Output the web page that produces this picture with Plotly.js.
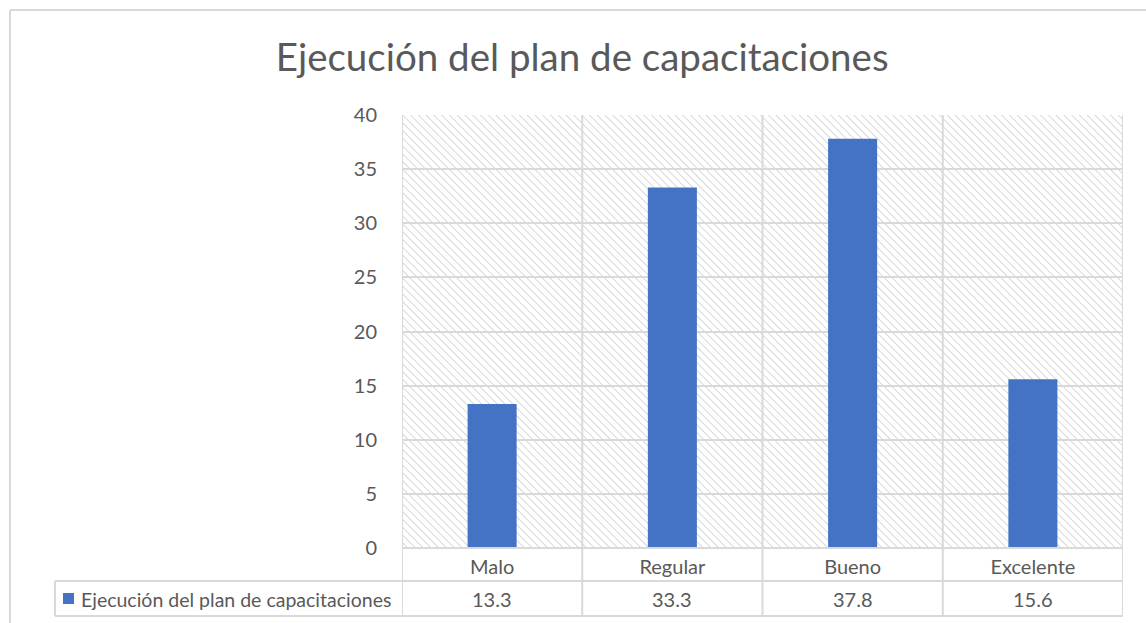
<!DOCTYPE html>
<html>
<head>
<meta charset="utf-8">
<script src="https://cdn.plot.ly/plotly-3.0.1.min.js"></script>
<style>html,body{margin:0;padding:0;background:#fff;}#chart{width:1146px;height:623px;}</style>
</head>
<body>
<div id="chart"></div>
<script>
// ---- data ----
const chartTitle = "Ejecución del plan de capacitaciones";
const seriesName = "Ejecución del plan de capacitaciones";
const categories = ["Malo", "Regular", "Bueno", "Excelente"];
const values = [13.3, 33.3, 37.8, 15.6];
const yTickVals = [0, 5, 10, 15, 20, 25, 30, 35, 40];

// ---- layout geometry (pixels) ----
const W = 1146, H = 623;
const L = 402, R = 1123, T = 115, B = 548;
const pw = R - L, ph = B - T;
const px = x => (x - L) / pw;
const py = y => (B - y) / ph;
const grid = "#d9d9d9";
const txt = "#595959";
const font = "Lato, 'Open Sans', sans-serif";

// hatch background as svg image
const hatchSvg = `<svg xmlns="http://www.w3.org/2000/svg" width="${pw}" height="${ph}"><defs><pattern id="h" width="5.5" height="5.5" patternUnits="userSpaceOnUse" patternTransform="rotate(-45)"><line x1="0" y1="0" x2="0" y2="5.5" stroke="#d2d2d2" stroke-width="1.7"/></pattern></defs><rect width="100%" height="100%" fill="url(#h)"/></svg>`;
const hatchUri = "data:image/svg+xml;base64," + btoa(hatchSvg);

const shapes = [];
const line = (x0, y0, x1, y1, xref) => shapes.push({
  type: "line", xref: xref || "paper", yref: "paper",
  x0: x0, y0: y0, x1: x1, y1: y1,
  line: {color: grid, width: 2}, layer: "above"
});
// vertical boundaries across plot + table
for (let i = 0; i <= categories.length; i++) {
  line(i - 0.5, 1, i - 0.5, py(617), "x");
}
// table horizontals
line(px(L), py(B), px(R), py(B));
line(px(55), py(581), px(R), py(581));
line(px(55), py(616), px(R), py(616));
line(px(55), py(581), px(55), py(616));
// outer chart frame
line(px(10), py(10), px(10), py(H + 5));
line(px(10), py(10), px(W + 5), py(10));
// legend key square
shapes.push({type: "rect", xref: "paper", yref: "paper",
  x0: px(63), x1: px(74), y0: py(604), y1: py(593),
  fillcolor: "#4472c4", line: {width: 0}});

const annotations = [];
annotations.push({xref: "paper", yref: "paper", x: px(79), y: py(599),
  xanchor: "left", yanchor: "middle", text: seriesName, showarrow: false,
  font: {family: font, size: 19.5, color: txt}});
values.forEach((v, i) => annotations.push({
  xref: "x", yref: "paper", x: categories[i], y: py(599),
  xanchor: "center", yanchor: "middle", text: v.toFixed(1), showarrow: false,
  font: {family: font, size: 20, color: txt}
}));

const data = [{
  type: "bar", x: categories, y: values, name: seriesName,
  marker: {color: "#4472c4", line: {width: 0}},
  showlegend: false, hoverinfo: "x+y"
}];

const layout = {
  width: W, height: H,
  margin: {l: L, r: W - R, t: T, b: H - B, pad: 0},
  paper_bgcolor: "#ffffff", plot_bgcolor: "#ffffff",
  bargap: 0.728,
  title: {text: chartTitle, x: 0.508, xanchor: "center", y: 1 - 58 / H, yanchor: "middle",
    font: {family: font, size: 38.5, color: txt}},
  xaxis: {type: "category", range: [-0.5, categories.length - 0.5], showgrid: false,
    showline: false, zeroline: false, ticks: "outside", ticklen: 1, tickcolor: "rgba(0,0,0,0)",
    tickfont: {family: font, size: 20, color: txt}, fixedrange: true},
  yaxis: {range: [0, 40], tickvals: yTickVals, showgrid: true, gridcolor: grid, gridwidth: 2,
    zeroline: false, showline: false, ticks: "outside", ticklen: 20, tickcolor: "rgba(0,0,0,0)",
    tickfont: {family: font, size: 20, color: txt}, fixedrange: true},
  images: [{source: hatchUri, xref: "paper", yref: "paper", x: 0, y: 1, sizex: 1, sizey: 1,
    xanchor: "left", yanchor: "top", sizing: "stretch", layer: "below"}],
  shapes: shapes,
  annotations: annotations
};

Plotly.newPlot("chart", data, layout, {displayModeBar: false, staticPlot: true});
</script>
</body>
</html>
